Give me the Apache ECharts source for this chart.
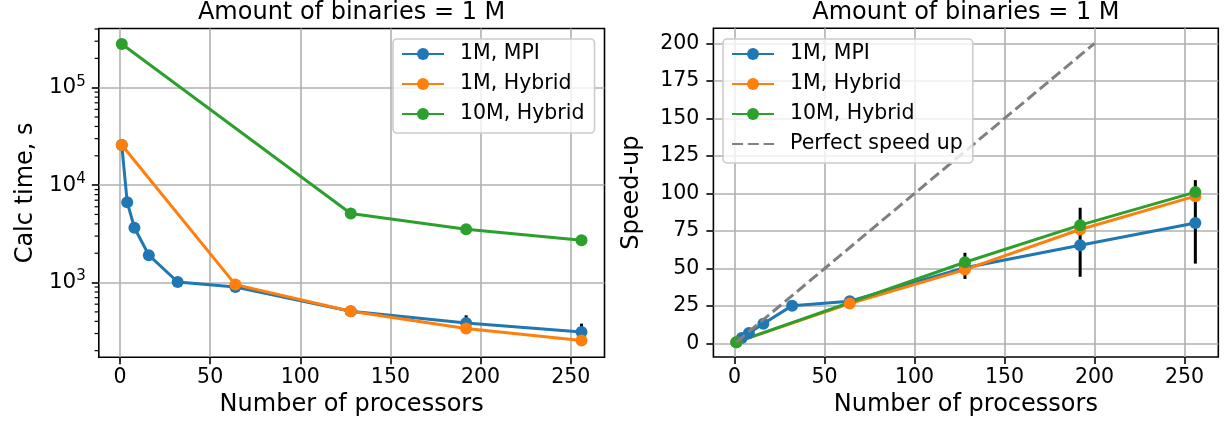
<!DOCTYPE html>
<html><head><meta charset="utf-8">
<script src="https://cdn.jsdelivr.net/npm/echarts@6/dist/echarts.min.js"></script>
<style>html,body{margin:0;padding:0;background:#fff}#c{width:1225px;height:423px}</style>
</head><body><div id="c"></div>
<script>
// ---------- data ----------
const titleText = 'Amount of binaries = 1 M';
const xLabel = 'Number of processors';
const yLabelTime = 'Calc time, s';
const yLabelSpeed = 'Speed-up';
const seriesNames = ['1M, MPI', '1M, Hybrid', '10M, Hybrid'];
const perfectName = 'Perfect speed up';

const procMPI = [1, 4, 8, 16, 32, 64, 128, 192, 256];
const procHybrid1M = [1, 64, 128, 192, 256];
const procHybrid10M = [1, 128, 192, 256];

const timeMPI = [25800, 6690, 3650, 1910, 1014, 901, 507, 385, 311];
const timeHybrid1M = [25800, 953, 507, 337, 255];
const timeHybrid10M = [281000, 5120, 3520, 2720];

const timeErrProc = [192, 256];
const timeErrLow = [309, 243];
const timeErrHigh = [461, 379];

const speedMPI = [1, 3.8, 7.1, 13.3, 25.3, 28.2, 50.5, 65.5, 80.4];
const speedHybrid1M = [1, 26.7, 49.3, 76, 98.2];
const speedHybrid10M = [1, 54.2, 78.9, 100.9];

const speedErrProc = [128, 192, 256];
const speedErrLow = [43.1, 44.5, 53.3];
const speedErrHigh = [60.5, 90.5, 108.9];

const perfectProc = [1, 200];
const perfectSpeed = [1, 200];

const xTicks = [0, 50, 100, 150, 200, 250];
const timeTicks = [1000, 10000, 100000];
const timeMinorTicks = [200, 300, 400, 500, 600, 700, 800, 900,
  2000, 3000, 4000, 5000, 6000, 7000, 8000, 9000,
  20000, 30000, 40000, 50000, 60000, 70000, 80000, 90000,
  200000, 300000, 400000];
const speedTicks = [0, 25, 50, 75, 100, 125, 150, 175, 200];

// ---------- style ----------
const FONT = 'DejaVu Sans';
const COLORS = ['#1f77b4', '#ff7f0e', '#2ca02c'];
const X_MIN = -11.75, X_MAX = 268.75;
const TICK_FS = 20.5, LABEL_FS = 24;

function pairs(xs, ys) { return xs.map((x, i) => [x, ys[i]]); }
function errData(xs, lo, hi) { return xs.map((x, i) => [x, lo[i], hi[i]]); }

function xAxis(gi) {
  return {
    type: 'value', gridIndex: gi, min: X_MIN, max: X_MAX,
    name: xLabel, nameLocation: 'middle', nameGap: 35,
    nameTextStyle: { fontFamily: FONT, fontSize: LABEL_FS, color: '#000' },
    axisLine: { show: false, onZero: false },
    axisTick: { show: true, length: 7, customValues: xTicks, lineStyle: { color: '#000', width: 1.6 } },
    axisLabel: { customValues: xTicks, margin: 10, fontFamily: FONT, fontSize: TICK_FS, color: '#000' },
    splitLine: { show: true, lineStyle: { color: '#b0b0b0', width: 1.6 } }
  };
}

function lineSeries(name, xs, ys, ci, gi) {
  return {
    type: 'line', name, xAxisIndex: gi, yAxisIndex: gi,
    data: pairs(xs, ys), symbol: 'circle', symbolSize: 12, showAllSymbol: true,
    lineStyle: { color: COLORS[ci], width: 3 },
    itemStyle: { color: COLORS[ci], borderWidth: 0 },
    emphasis: { disabled: true }, animation: false, z: 3
  };
}

function errSeries(data, gi) {
  return {
    type: 'custom', xAxisIndex: gi, yAxisIndex: gi, data, silent: true, z: 2,
    encode: { x: 0, y: [1, 2] },
    renderItem: (p, api) => {
      const a = api.coord([api.value(0), api.value(1)]);
      const b = api.coord([api.value(0), api.value(2)]);
      return { type: 'line', shape: { x1: a[0], y1: a[1], x2: b[0], y2: b[1] },
        style: { stroke: '#000', lineWidth: 3 } };
    }
  };
}

const legendCommon = {
  orient: 'vertical', top: 39, itemWidth: 42, itemHeight: 15, itemGap: 8,
  padding: [4, 10, 8, 8], backgroundColor: 'rgba(255,255,255,0.8)',
  borderColor: '#cccccc', borderWidth: 1.6, borderRadius: 4, selectedMode: false, z: 10,
  textStyle: { fontFamily: FONT, fontSize: TICK_FS, color: '#000', lineHeight: 22, padding: [0, 0, 0, 11] }
};

const option = {
  animation: false,
  title: [
    { text: titleText, left: 351.6, top: 0, textAlign: 'center', padding: 0,
      textStyle: { fontFamily: FONT, fontSize: LABEL_FS, fontWeight: 'normal', color: '#000', lineHeight: 26 } },
    { text: titleText, left: 965.9, top: 0, textAlign: 'center', padding: 0,
      textStyle: { fontFamily: FONT, fontSize: LABEL_FS, fontWeight: 'normal', color: '#000', lineHeight: 26 } }
  ],
  grid: [
    { left: 98.8, top: 28.5, width: 505.7, height: 328.8, show: true, borderColor: '#000', borderWidth: 1.6, backgroundColor: 'transparent' },
    { left: 713.4, top: 28.3, width: 504.9, height: 328.7, show: true, borderColor: '#000', borderWidth: 1.6, backgroundColor: 'transparent' }
  ],
  legend: [
    Object.assign({}, legendCommon, { left: 393, data: seriesNames }),
    Object.assign({}, legendCommon, { left: 723,
      data: seriesNames.concat([{ name: perfectName, itemStyle: { opacity: 0 } }]) })
  ],
  xAxis: [xAxis(0), xAxis(1)],
  yAxis: [
    {
      type: 'log', logBase: 10, gridIndex: 0, min: 171, max: 405000,
      name: yLabelTime, nameLocation: 'middle', nameGap: 61,
      nameTextStyle: { fontFamily: FONT, fontSize: LABEL_FS, color: '#000' },
      axisLine: { show: false, onZero: false },
      axisTick: { show: true, length: 7, customValues: timeTicks, lineStyle: { color: '#000', width: 1.6 } },
      axisLabel: {
        customValues: timeTicks, margin: 13, fontFamily: FONT, fontSize: 21.5, color: '#000',
        formatter: v => '10{sup|' + Math.round(Math.log10(v)) + '}',
        rich: { sup: { fontFamily: FONT, fontSize: 15, color: '#000', padding: [0, 0, 12, 0] } }
      },
      splitLine: { show: true, lineStyle: { color: '#b0b0b0', width: 1.6 } }
    },
    {
      type: 'value', gridIndex: 1, min: -8.9, max: 210,
      name: yLabelSpeed, nameLocation: 'middle', nameGap: 70,
      nameTextStyle: { fontFamily: FONT, fontSize: LABEL_FS, color: '#000' },
      axisLine: { show: false, onZero: false },
      axisTick: { show: true, length: 7, customValues: speedTicks, lineStyle: { color: '#000', width: 1.6 } },
      axisLabel: { customValues: speedTicks, margin: 14, fontFamily: FONT, fontSize: TICK_FS, color: '#000' },
      splitLine: { show: true, lineStyle: { color: '#b0b0b0', width: 1.6 } }
    }
  ],
  series: [
    // left panel
    errSeries(errData(timeErrProc, timeErrLow, timeErrHigh), 0),
    lineSeries(seriesNames[0], procMPI, timeMPI, 0, 0),
    lineSeries(seriesNames[1], procHybrid1M, timeHybrid1M, 1, 0),
    lineSeries(seriesNames[2], procHybrid10M, timeHybrid10M, 2, 0),
    {
      type: 'custom', xAxisIndex: 0, yAxisIndex: 0, clip: false, silent: true, z: 5,
      data: timeMinorTicks.map(v => [X_MIN, v]), encode: { x: 0, y: 1 },
      renderItem: (p, api) => {
        const c = api.coord([api.value(0), api.value(1)]);
        return { type: 'line', shape: { x1: c[0] - 4.2, y1: c[1], x2: c[0], y2: c[1] },
          style: { stroke: '#000', lineWidth: 1.2 } };
      }
    },
    // right panel
    errSeries(errData(speedErrProc, speedErrLow, speedErrHigh), 1),
    lineSeries(seriesNames[0], procMPI, speedMPI, 0, 1),
    lineSeries(seriesNames[1], procHybrid1M, speedHybrid1M, 1, 1),
    lineSeries(seriesNames[2], procHybrid10M, speedHybrid10M, 2, 1),
    {
      type: 'line', name: perfectName, xAxisIndex: 1, yAxisIndex: 1,
      data: pairs(perfectProc, perfectSpeed), symbol: 'none',
      lineStyle: { color: '#808080', width: 3, type: [11, 4.8] },
      itemStyle: { color: '#808080' },
      emphasis: { disabled: true }, z: 4
    }
  ]
};

const chart = echarts.init(document.getElementById('c'), null, { renderer: 'canvas' });
chart.setOption(option);
</script>
</body></html>
